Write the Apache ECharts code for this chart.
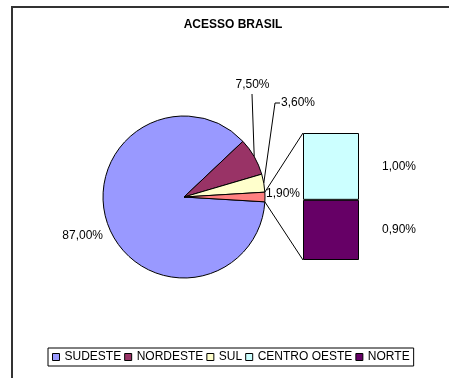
<!DOCTYPE html>
<html>
<head>
<meta charset="utf-8">
<script src="https://cdn.jsdelivr.net/npm/echarts@6/dist/echarts.min.js"></script>
<style>
  html, body { margin: 0; padding: 0; background: #fff; }
  #chart { width: 449px; height: 378px; }
</style>
</head>
<body>
<div id="chart"></div>
<script>
// Access share by region (%), the small regions are broken out into a stacked bar
const chartTitle = 'ACESSO BRASIL';
const pieNames = ['SUDESTE', 'NORDESTE', 'SUL', 'OUTROS'];
const pieValues = [87.0, 7.5, 3.6, 1.9];
const barNames = ['CENTRO OESTE', 'NORTE'];
const barValues = [1.0, 0.9];
const legendNames = ['SUDESTE', 'NORDESTE', 'SUL', 'CENTRO OESTE', 'NORTE'];

const colors = {
  'SUDESTE': '#9999FF',
  'NORDESTE': '#993366',
  'SUL': '#FFFFCC',
  'OUTROS': '#FF8080',
  'CENTRO OESTE': '#CCFFFF',
  'NORTE': '#660066'
};
const FONT = '"Liberation Sans", Arial, sans-serif';
const pieCenter = [184, 197];
const pieRadius = 81;

const pieTotal = pieValues.reduce((a, b) => a + b, 0);
const barTotal = barValues.reduce((a, b) => a + b, 0);
// the "others" slice is centred on the 3 o'clock direction
const otherHalfDeg = pieValues[pieValues.length - 1] / pieTotal * 180;

const pct = v => v.toFixed(2).replace('.', ',') + '%';

const chart = echarts.init(document.getElementById('chart'), null, { renderer: 'canvas' });

const pieData = pieNames.map((n, i) => ({
  name: n,
  value: pieValues[i],
  itemStyle: { color: colors[n] },
  labelLine: { show: i === 1 || i === 2 }
}));

// stacked bar: first series sits at the bottom
const barOrder = [1, 0];
const barSeries = barOrder.map(i => ({
  type: 'bar',
  name: barNames[i],
  stack: 'outros',
  data: [barValues[i]],
  barWidth: '100%',
  itemStyle: { color: colors[barNames[i]], borderColor: '#000', borderWidth: 1 },
  label: {
    show: true, position: 'right', distance: 23,
    formatter: p => pct(p.value),
    fontFamily: FONT, fontSize: 12, color: '#000'
  }
}));

chart.setOption({
  animation: false,
  title: {
    text: chartTitle,
    left: 233, top: 19, padding: 0, textAlign: 'center',
    textStyle: { fontFamily: FONT, fontSize: 12, fontWeight: 'bold', color: '#000' }
  },
  legend: {
    data: legendNames,
    left: 48, top: 348,
    icon: 'rect', itemWidth: 7, itemHeight: 7, itemGap: 3,
    borderColor: '#000', borderWidth: 1, padding: [3, 4, 3, 4],
    itemStyle: { borderColor: '#000', borderWidth: 1 },
    textStyle: { fontFamily: FONT, fontSize: 12, color: '#000' }
  },
  grid: { left: 303, top: 133, width: 56, height: 127 },
  xAxis: { type: 'category', data: ['OUTROS'], show: false },
  yAxis: { type: 'value', min: 0, max: barTotal, show: false },
  series: [
    {
      type: 'pie',
      center: pieCenter,
      radius: pieRadius,
      startAngle: 360 - otherHalfDeg,
      clockwise: true,
      avoidLabelOverlap: false,
      data: pieData,
      itemStyle: { borderColor: '#000', borderWidth: 1 },
      label: {
        show: true, position: 'outside',
        formatter: p => pct(p.value),
        fontFamily: FONT, fontSize: 12, color: '#000'
      },
      labelLine: { show: true, lineStyle: { color: '#000', width: 1 } },
      emphasis: { disabled: true },
      labelLayout: function (p) {
        const start = p.labelLinePoints ? p.labelLinePoints[0] : [0, 0];
        switch (p.dataIndex) {
          case 0:
            return { x: 103, y: 236, align: 'right', verticalAlign: 'middle' };
          case 1:
            return {
              x: 252.5, y: 85, align: 'center', verticalAlign: 'middle',
              labelLinePoints: [start, [252, 94], [252, 94]]
            };
          case 2:
            return {
              x: 281, y: 103, align: 'left', verticalAlign: 'middle',
              labelLinePoints: [start, [275, 103], [280, 103]]
            };
          default:
            return { x: 266, y: 194, align: 'left', verticalAlign: 'middle' };
        }
      }
    }
  ].concat(barSeries)
});

// connectors from the "others" slice to the breakdown bar
const halfRad = otherHalfDeg * Math.PI / 180;
const edgeUp = [pieCenter[0] + pieRadius * Math.cos(halfRad), pieCenter[1] - pieRadius * Math.sin(halfRad)];
const edgeDown = [pieCenter[0] + pieRadius * Math.cos(halfRad), pieCenter[1] + pieRadius * Math.sin(halfRad)];
const xAxisModel = chart.getModel().getComponent('xAxis', 0);
const band = xAxisModel.axis.getBandWidth();
const barTop = chart.convertToPixel({ gridIndex: 0 }, ['OUTROS', barTotal]);
const barBottom = chart.convertToPixel({ gridIndex: 0 }, ['OUTROS', 0]);
const barLeft = barTop[0] - band / 2;

chart.setOption({
  graphic: [
    {
      type: 'rect', silent: true,
      shape: { x: 12, y: 7, width: 600, height: 600 },
      style: { fill: 'none', stroke: '#333', lineWidth: 2 }
    },
    {
      type: 'line', silent: true,
      shape: { x1: edgeUp[0], y1: edgeUp[1], x2: barLeft, y2: barTop[1] },
      style: { stroke: '#000', lineWidth: 1 }
    },
    {
      type: 'line', silent: true,
      shape: { x1: edgeDown[0], y1: edgeDown[1], x2: barLeft, y2: barBottom[1] },
      style: { stroke: '#000', lineWidth: 1 }
    }
  ]
});
</script>
</body>
</html>
